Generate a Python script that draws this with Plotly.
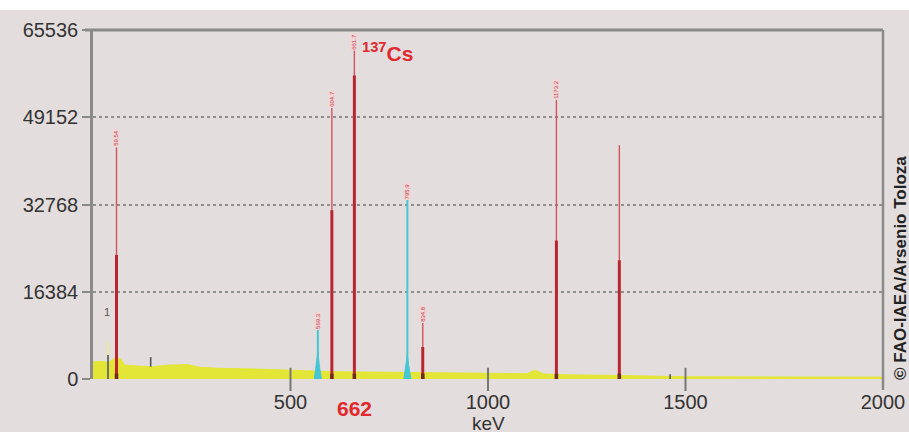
import plotly.graph_objects as go

# ---------------- data ----------------
y_tick_vals = [0, 16384, 32768, 49152, 65536]
x_tick_vals = [500, 1000, 1500, 2000]

# continuum (yellow) - energy in keV, counts
cont_energy = [0, 20, 40, 55, 70, 80, 120, 150, 190, 240, 270, 320, 400, 450, 500,
               560, 620, 700, 780, 850, 950, 1050, 1100, 1115, 1125, 1140, 1200,
               1300, 1400, 1500, 1700, 2000]
cont_counts = [3200, 3300, 3100, 3900, 3800, 2600, 2400, 2300, 2600, 2700, 2200, 2000,
               1900, 1750, 1650, 1500, 1350, 1300, 1250, 1150, 1100, 1050, 1000, 1600,
               1500, 950, 780, 700, 600, 420, 380, 350]

# red peaks
red_energy = [59.5, 604.7, 661.7, 834.8, 1173.2, 1332.5]
red_top = [43500, 50900, 61700, 10500, 52400, 43900]
red_core = [23300, 31700, 57000, 6000, 26000, 22300]
red_label = ["59.54", "604.7", "661.7", "834.8", "1173.2", ""]

# cyan peaks
cyan_energy = [569.3, 795.9]
cyan_top = [9200, 33600]
cyan_base = [5200, 4600]
cyan_label = ["569.3", "795.9"]

# small dark marks
mark_energy = [38, 146, 1461]
mark_low = [0, 2300, 0]
mark_high = [4500, 4100, 900]

# ---------------- styles ----------------
BG = "#e3dddd"
AXIS = "#8a8a8a"
YELLOW = "#e3e636"
RED_THIN = "#d4545e"
RED_CORE = "#b8262f"
RED_DARK = "#6e2a1e"
CYAN = "#45c6d6"
TXT = "#333333"
LABEL_RED = "#e0282e"


def segs(xs, lows, highs):
    X, Y = [], []
    for x, lo, hi in zip(xs, lows, highs):
        X += [x, x, None]
        Y += [lo, hi, None]
    return X, Y


fig = go.Figure()

# continuum
fig.add_trace(go.Scatter(x=cont_energy, y=cont_counts, mode="lines", fill="tozeroy",
                         line=dict(color=YELLOW, width=1, shape="linear"),
                         fillcolor=YELLOW, hoverinfo="skip"))

# pale yellow spike near 38 keV
fig.add_trace(go.Scatter(x=[38, 38], y=[0, 7000], mode="lines",
                         line=dict(color="#eee7a0", width=2), hoverinfo="skip"))

# cyan peaks: broad base + thin line
for e, t, b in zip(cyan_energy, cyan_top, cyan_base):
    w = 9
    fig.add_trace(go.Scatter(x=[e - w, e - w * 0.35, e, e + w * 0.35, e + w],
                             y=[0, b * 0.55, b, b * 0.55, 0], mode="lines",
                             fill="toself", fillcolor=CYAN, line=dict(color=CYAN, width=1),
                             hoverinfo="skip"))
cx, cy = segs(cyan_energy, [0] * len(cyan_energy), cyan_top)
fig.add_trace(go.Scatter(x=cx, y=cy, mode="lines", line=dict(color=CYAN, width=2),
                         hoverinfo="skip"))

# red peaks: thin full-height line, thicker core, dark foot
rx, ry = segs(red_energy, [0] * len(red_energy), red_top)
fig.add_trace(go.Scatter(x=rx, y=ry, mode="lines", line=dict(color=RED_THIN, width=1.4),
                         hoverinfo="skip"))
rx, ry = segs(red_energy, [0] * len(red_energy), red_core)
fig.add_trace(go.Scatter(x=rx, y=ry, mode="lines", line=dict(color=RED_CORE, width=3),
                         hoverinfo="skip"))
rx, ry = segs(red_energy, [0] * len(red_energy), [1000] * len(red_energy))
fig.add_trace(go.Scatter(x=rx, y=ry, mode="lines", line=dict(color=RED_DARK, width=3.5),
                         hoverinfo="skip"))

# small dark marks
mx, my = segs(mark_energy, mark_low, mark_high)
fig.add_trace(go.Scatter(x=mx, y=my, mode="lines", line=dict(color="#555555", width=1.6),
                         hoverinfo="skip"))

annotations = []
# peak labels
for e, t, lab in list(zip(red_energy, red_top, red_label)) + list(zip(cyan_energy, cyan_top, cyan_label)):
    if not lab:
        continue
    annotations.append(dict(x=e, y=t, xref="x", yref="y", text=lab, showarrow=False,
                            textangle=-90, yanchor="bottom", xanchor="center",
                            font=dict(size=6, color="#c04048", family="Liberation Sans"),
                            bgcolor="#f3d6d6", borderpad=0))

annotations += [
    dict(x=35, y=12600, xref="x", yref="y", text="1", showarrow=False,
         font=dict(size=11, color="#555555")),
    dict(x=677, y=61400, xref="x", yref="y", text="<b><sup>137</sup>Cs</b>", showarrow=False,
         xanchor="left", yanchor="middle", font=dict(size=21, color=LABEL_RED)),
    dict(x=661.7, y=-(408 - 379) / 349, xref="x", yref="paper", text="<b>662</b>",
         showarrow=False, xanchor="center", yanchor="middle", font=dict(size=21, color=LABEL_RED)),
    dict(x=1000, y=-(423 - 379) / 349, xref="x", yref="paper", text="keV",
         showarrow=False, xanchor="center", yanchor="middle", font=dict(size=19, color=TXT)),
    dict(x=(900 - 93) / 790, y=(379 - 268) / 349, xref="paper", yref="paper",
         text="<b>© FAO-IAEA/Arsenio Toloza</b>", showarrow=False, textangle=-90,
         xanchor="center", yanchor="middle",
         font=dict(size=17, color="#222222")),
]

shapes = [
    # white strip at very top
    dict(type="rect", xref="paper", yref="paper", x0=-93 / 790, x1=1 + 26 / 790,
         y0=1 + 20 / 349, y1=1 + 30 / 349, fillcolor="white", line=dict(width=0), layer="below"),
    # top border
    dict(type="line", xref="paper", yref="paper", x0=-8 / 790, x1=1, y0=1, y1=1,
         line=dict(color=AXIS, width=3)),
    # right border
    dict(type="line", xref="paper", yref="paper", x0=1, x1=1, y0=1, y1=-11 / 349,
         line=dict(color=AXIS, width=2.5)),
]
for v in x_tick_vals[:-1]:
    # tick part above the baseline
    shapes.append(dict(type="line", xref="x", yref="y", x0=v, x1=v, y0=0, y1=2100,
                       line=dict(color="#777777", width=2)))
    # tick part below the baseline
    shapes.append(dict(type="line", xref="x", yref="paper", x0=v, x1=v, y0=0, y1=-12 / 349,
                       line=dict(color="#777777", width=2)))

fig.update_layout(
    width=909, height=432,
    autosize=False,
    margin=dict(l=93, r=26, t=30, b=53, pad=0, autoexpand=False),
    paper_bgcolor=BG, plot_bgcolor=BG,
    showlegend=False,
    font=dict(family="Liberation Sans, Arial, sans-serif", size=20, color=TXT),
    annotations=annotations, shapes=shapes,
    xaxis=dict(range=[0, 2000], tickvals=x_tick_vals, ticktext=[str(v) for v in x_tick_vals],
               ticks="", automargin=False, ticklabelstandoff=9,
               showgrid=False, zeroline=False, showline=False,
               tickfont=dict(size=20, color=TXT)),
    yaxis=dict(range=[0, 65536], tickvals=y_tick_vals, ticktext=[str(v) for v in y_tick_vals],
               ticks="outside", ticklen=8, tickwidth=2, tickcolor=AXIS, automargin=False,
               showline=True, linewidth=2.5, linecolor=AXIS,
               showgrid=True, gridcolor="#8f8f8f", griddash="dot", gridwidth=1.5,
               zeroline=False, tickfont=dict(size=20, color=TXT)),
)

fig.write_html("out.html", config={"responsive": False, "displayModeBar": False},
               post_script="document.body.style.margin='0';document.body.style.overflow='hidden';")
